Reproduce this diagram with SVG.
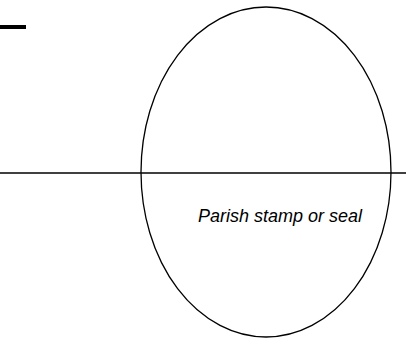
<svg xmlns="http://www.w3.org/2000/svg" width="406" height="344" viewBox="0 0 406 344">
  <style>
    .stroke { fill: none; stroke: #000; stroke-width: 1.3; }
    .label { font-family: "Liberation Sans", Arial, sans-serif; font-style: italic; font-size: 18px; fill: #000; }
  </style>
  <rect x="0" y="0" width="406" height="344" fill="#fff"/>
  <g id="mark">
    <line x1="0" y1="27" x2="26" y2="27" stroke="#000" stroke-width="4"/>
  </g>
  <g id="seal">
    <ellipse class="stroke" cx="266" cy="172" rx="125" ry="165"/>
    <text class="label" x="280" y="222" text-anchor="middle">Parish stamp or seal</text>
  </g>
  <g id="connectors">
    <line class="stroke" x1="0" y1="173" x2="406" y2="173"/>
  </g>
</svg>
